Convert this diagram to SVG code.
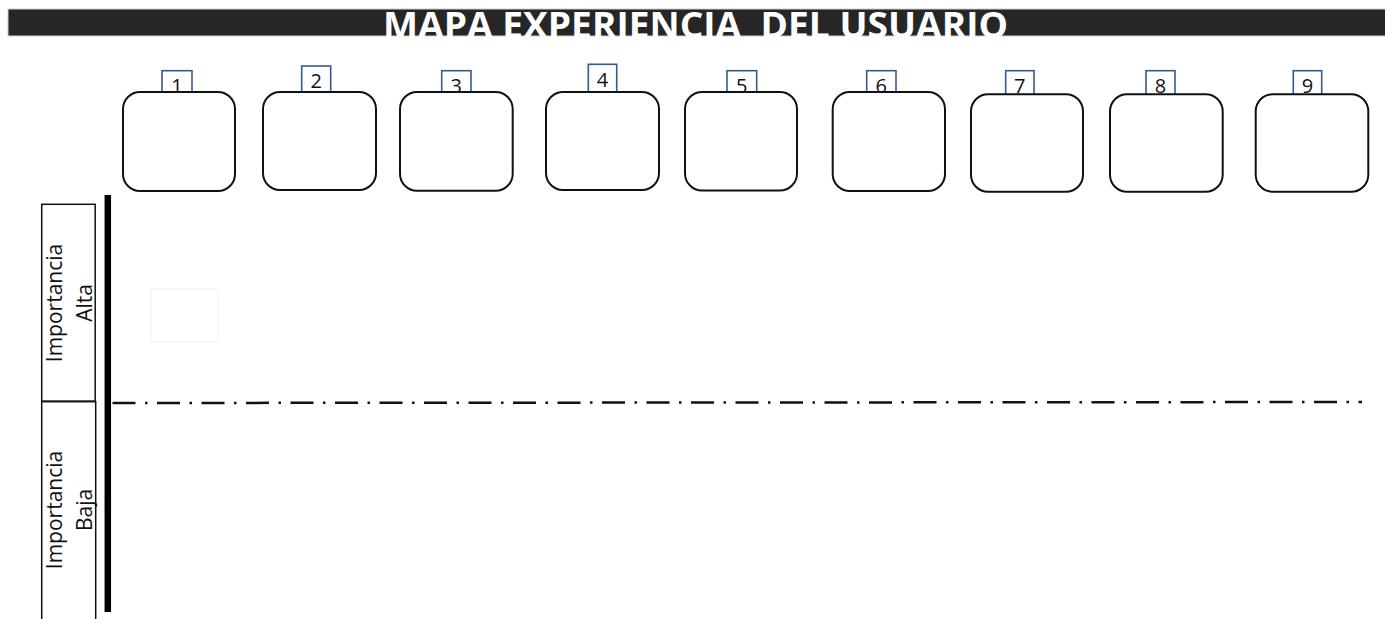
<svg xmlns="http://www.w3.org/2000/svg" width="1385" height="619" viewBox="0 0 1385 619">
<style>
.title{font-family:"Open Sans","Liberation Sans",sans-serif;font-weight:bold;font-size:35px;fill:#ffffff;white-space:pre}
.tab{fill:#ffffff;stroke:#2f5c97;stroke-width:1.6}
.num{font-family:"Open Sans","Liberation Sans",sans-serif;font-size:20px;fill:#111111;text-anchor:middle}
.card{fill:#ffffff;stroke:#111111;stroke-width:2}
.side{fill:#ffffff;stroke:#111111;stroke-width:1.5}
.side-t{font-family:"Open Sans","Liberation Sans",sans-serif;font-size:21px;fill:#111111;text-anchor:middle}
</style>
<rect width="1385" height="619" fill="#ffffff"/>
<g id="title">
<rect x="8" y="9" width="1382" height="27" fill="#262626" stroke="#cfcfcf" stroke-width="1"/>
<text class="title" x="383" y="38" textLength="625" lengthAdjust="spacingAndGlyphs">MAPA EXPERIENCIA  DEL USUARIO</text>
</g>
<g id="faint-box">
<rect x="151" y="289" width="67" height="53" fill="none" stroke="#eeeeee" stroke-width="1"/>
</g>
<g id="step1">
<rect class="tab" x="162" y="70.7" width="30" height="30"/>
<text class="num" x="177" y="92.7">1</text>
<rect class="card" x="123" y="92" width="112" height="99" rx="17"/>
</g>
<g id="step2">
<rect class="tab" x="301.7" y="66" width="29" height="34"/>
<text class="num" x="316.2" y="88">2</text>
<rect class="card" x="263" y="92" width="113" height="98" rx="17"/>
</g>
<g id="step3">
<rect class="tab" x="441.7" y="70.7" width="29.3" height="30"/>
<text class="num" x="456.3" y="92.7">3</text>
<rect class="card" x="400" y="92" width="112.7" height="98.7" rx="17"/>
</g>
<g id="step4">
<rect class="tab" x="588.3" y="64.3" width="28.4" height="36"/>
<text class="num" x="602.5" y="86.5">4</text>
<rect class="card" x="546" y="92" width="113" height="98" rx="17"/>
</g>
<g id="step5">
<rect class="tab" x="727" y="70.7" width="29.7" height="30"/>
<text class="num" x="741.8" y="92.7">5</text>
<rect class="card" x="685" y="92" width="112" height="98.5" rx="17"/>
</g>
<g id="step6">
<rect class="tab" x="866.7" y="70.7" width="29.3" height="30"/>
<text class="num" x="881.3" y="92.7">6</text>
<rect class="card" x="832.7" y="92" width="112.3" height="99" rx="17"/>
</g>
<g id="step7">
<rect class="tab" x="1005.7" y="70.7" width="28.3" height="30"/>
<text class="num" x="1019.8" y="92.7">7</text>
<rect class="card" x="971" y="94.3" width="112" height="97.4" rx="17"/>
</g>
<g id="step8">
<rect class="tab" x="1146" y="70.7" width="29" height="30"/>
<text class="num" x="1160.5" y="92.7">8</text>
<rect class="card" x="1110" y="94.3" width="112.7" height="97.4" rx="17"/>
</g>
<g id="step9">
<rect class="tab" x="1293.3" y="70.7" width="28.4" height="30"/>
<text class="num" x="1307.5" y="92.7">9</text>
<rect class="card" x="1255.7" y="94.3" width="112.6" height="97.4" rx="17"/>
</g>
<g id="importancia-alta">
<rect class="side" x="41.7" y="204.3" width="53.5" height="196.8"/>
<text class="side-t" transform="translate(62,303) rotate(-90)">Importancia</text>
<text class="side-t" transform="translate(91.5,303) rotate(-90)">Alta</text>
</g>
<g id="importancia-baja">
<rect class="side" x="41.7" y="401.7" width="54" height="230"/>
<text class="side-t" transform="translate(62,510) rotate(-90)">Importancia</text>
<text class="side-t" transform="translate(91.5,510) rotate(-90)">Baja</text>
</g>
<g id="connectors">
<line x1="107.8" y1="195" x2="107.8" y2="612" stroke="#000000" stroke-width="6.5"/>
<line x1="112.5" y1="403" x2="1362" y2="402" stroke="#111111" stroke-width="2.5" stroke-dasharray="23 9.5 2.5 9.5"/>
</g>
</svg>
